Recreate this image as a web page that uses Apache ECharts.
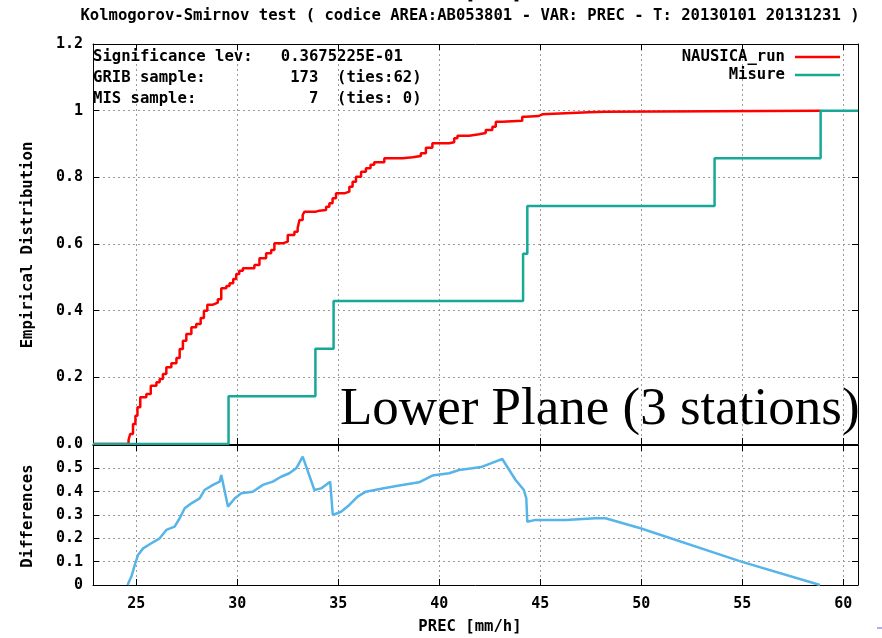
<!DOCTYPE html>
<html><head><meta charset="utf-8">
<script src="https://cdn.jsdelivr.net/npm/echarts@6/dist/echarts.min.js"></script>
<style>html,body{margin:0;padding:0;background:#fff}#c{width:882px;height:638px}</style>
</head><body><div id="c"></div>
<script>
// ---- data ----
const xTicks = [25, 30, 35, 40, 45, 50, 55, 60];
const xRange = [22.86, 60.73];
const cdfRange = [0, 1.2];
const diffRange = [0, 0.6];

// NAUSICA_run empirical CDF (step corners: x, F after the step)
const gribX = [22.86, 24.62, 24.7, 24.84, 24.96, 25.06, 25.2, 25.5, 25.72, 26.0, 26.16, 26.32, 26.49, 26.74, 26.99, 27.15, 27.31, 27.48, 27.73, 27.97, 28.19, 28.35, 28.52, 28.8, 29.04, 29.21, 29.46, 29.62, 29.8, 29.95, 30.1, 30.28, 30.85, 31.1, 31.43, 31.68, 31.84, 32.25, 32.5, 32.83, 32.99, 33.08, 33.24, 33.33, 33.9, 34.07, 34.4, 34.56, 34.72, 34.89, 35.3, 35.55, 35.71, 35.88, 36.13, 36.37, 36.6, 36.78, 37.28, 38.18, 38.68, 39.09, 39.34, 39.66, 40.49, 40.74, 40.9, 41.48, 41.97, 42.3, 42.63, 42.8, 43.12, 44.11, 44.28, 44.93, 45.1, 47.4, 48.2, 58.88];
const gribF = [0, 0.012, 0.03, 0.06, 0.085, 0.11, 0.14, 0.15, 0.175, 0.185, 0.195, 0.21, 0.23, 0.242, 0.258, 0.285, 0.31, 0.33, 0.35, 0.36, 0.378, 0.40, 0.418, 0.424, 0.434, 0.467, 0.474, 0.482, 0.495, 0.51, 0.52, 0.527, 0.537, 0.557, 0.572, 0.582, 0.602, 0.607, 0.627, 0.637, 0.647, 0.672, 0.687, 0.697, 0.70, 0.702, 0.712, 0.722, 0.737, 0.752, 0.757, 0.772, 0.787, 0.802, 0.817, 0.827, 0.838, 0.845, 0.857, 0.860, 0.864, 0.872, 0.889, 0.902, 0.905, 0.917, 0.925, 0.929, 0.933, 0.942, 0.952, 0.967, 0.970, 0.982, 0.984, 0.989, 0.995, 0.997, 1.0, 1.0];

// Misure empirical CDF
const misX = [22.86, 29.57, 33.87, 34.77, 44.15, 44.36, 53.63, 58.88, 60.73];
const misF = [0, 0.143, 0.286, 0.429, 0.571, 0.714, 0.857, 1.0, 1.0];

// Differences
const diffX = [24.57, 24.76, 24.93, 25.09, 25.34, 25.75, 26.16, 26.49, 26.9, 27.15, 27.4, 27.73, 28.14, 28.38, 28.8, 29.13, 29.21, 29.54, 29.87, 30.2, 30.77, 31.27, 31.76, 32.17, 32.58, 32.92, 33.24, 33.82, 34.15, 34.6, 34.73, 35.14, 35.55, 35.96, 36.37, 37.19, 38.02, 39.0, 39.66, 40.49, 40.98, 41.64, 42.13, 42.55, 43.12, 43.78, 44.19, 44.31, 44.36, 44.77, 46.26, 47.74, 48.23, 49.96, 54.95, 58.85];
const diffV = [0, 0.036, 0.086, 0.129, 0.157, 0.179, 0.2, 0.236, 0.25, 0.286, 0.329, 0.35, 0.371, 0.407, 0.429, 0.443, 0.471, 0.336, 0.371, 0.393, 0.4, 0.429, 0.443, 0.464, 0.479, 0.5, 0.55, 0.407, 0.414, 0.443, 0.3, 0.314, 0.343, 0.379, 0.4, 0.414, 0.426, 0.44, 0.469, 0.479, 0.493, 0.5, 0.507, 0.521, 0.54, 0.45, 0.407, 0.371, 0.271, 0.279, 0.279, 0.286, 0.286, 0.243, 0.1, 0];

const titleText = 'Kolmogorov-Smirnov test ( codice AREA:AB053801 - VAR: PREC - T: 20130101 20131231 )';
const infoLines = [
  'Significance lev:   0.3675225E-01',
  'GRIB sample:         173  (ties:62)',
  'MIS sample:            7  (ties: 0)'
];
const seriesNames = ['NAUSICA_run', 'Misure', 'Differences'];
const xName = 'PREC [mm/h]';
const yNames = ['Empirical Distribution', 'Differences'];
const annotation = 'Lower Plane (3 stations)';

// ---- chart ----
const zip = (a, b) => a.map((v, i) => [v, b[i]]);
const MONO = '"DejaVu Sans Mono", monospace';
const RED = '#ff0000', TEAL = '#17a898', BLUE = '#56b4e9';
const grid = { show: true, lineStyle: { color: '#9a9a9a', width: 1, type: [2, 3] } };
const blackLine = { show: true, onZero: false, lineStyle: { color: '#000', width: 1 } };
const tick = (vals) => ({ show: true, inside: true, length: 6, customValues: vals, lineStyle: { color: '#000' } });
const lbl = { fontFamily: MONO, fontWeight: 'bold', fontSize: 15, color: '#000' };

function xAxis(gi, pos, labels) {
  return {
    gridIndex: gi, type: 'value', position: pos, min: xRange[0], max: xRange[1],
    axisLine: blackLine, axisTick: tick(xTicks),
    axisLabel: labels ? Object.assign({ show: true, customValues: xTicks, margin: 12 }, lbl) : { show: false },
    splitLine: pos === 'bottom' ? grid : { show: false }
  };
}
function yAxis(gi, pos, range, step, fmt) {
  return {
    gridIndex: gi, type: 'value', position: pos, min: range[0], max: range[1], interval: step,
    axisLine: blackLine,
    axisTick: { show: true, inside: true, length: 6, lineStyle: { color: '#000' } },
    axisLabel: fmt ? Object.assign({ show: true, margin: 10, formatter: fmt }, lbl) : { show: false },
    splitLine: pos === 'left' ? grid : { show: false }
  };
}
const cdfFmt = v => { const r = Math.round(v * 10) / 10; if (r === 0) return '0.0'; if (r === 1) return '1'; return r.toFixed(1); };
const diffFmt = v => { const r = Math.round(v * 10) / 10; if (r >= 0.6) return ''; if (r === 0) return '0'; return r.toFixed(1); };

const txt = (text, x, y, extra, rot) => ({
  type: 'text', x, y, rotation: rot || 0, z: 100, silent: true,
  style: Object.assign({ text, fill: '#000', font: 'bold 15.6px ' + MONO, align: 'left', verticalAlign: 'middle' }, extra || {})
});

const chart = echarts.init(document.getElementById('c'), null, { renderer: 'canvas' });
chart.setOption({
  animation: false,
  backgroundColor: '#fff',
  grid: [
    { left: 93, top: 44, width: 765, height: 400, containLabel: false, outerBoundsMode: 'none' },
    { left: 93, top: 445, width: 765, height: 140, containLabel: false, outerBoundsMode: 'none' }
  ],
  xAxis: [xAxis(0, 'bottom', false), xAxis(0, 'top', false), xAxis(1, 'bottom', true), xAxis(1, 'top', false)],
  yAxis: [
    yAxis(0, 'left', cdfRange, 0.2, cdfFmt), yAxis(0, 'right', cdfRange, 0.2, null),
    yAxis(1, 'left', diffRange, 0.1, diffFmt), yAxis(1, 'right', diffRange, 0.1, null)
  ],
  series: [
    { name: seriesNames[0], type: 'line', xAxisIndex: 0, yAxisIndex: 0, step: 'end', showSymbol: false,
      data: zip(gribX, gribF), lineStyle: { color: RED, width: 2.5 }, itemStyle: { color: RED }, z: 3 },
    { name: seriesNames[1], type: 'line', xAxisIndex: 0, yAxisIndex: 0, step: 'end', showSymbol: false,
      data: zip(misX, misF), lineStyle: { color: TEAL, width: 2.5 }, itemStyle: { color: TEAL }, z: 4 },
    { name: seriesNames[2], type: 'line', xAxisIndex: 2, yAxisIndex: 2, showSymbol: false,
      data: zip(diffX, diffV), lineStyle: { color: BLUE, width: 2.5 }, itemStyle: { color: BLUE }, z: 3 }
  ],
  graphic: [
    txt(xName, 470, -5, { align: 'center' }),
    txt(titleText, 470, 16, { align: 'center' }),
    txt(infoLines[0], 93, 57),
    txt(infoLines[1], 93, 78),
    txt(infoLines[2], 93, 99),
    txt(seriesNames[0], 785, 57, { align: 'right' }),
    txt(seriesNames[1], 785, 75, { align: 'right' }),
    { type: 'line', z: 100, silent: true, shape: { x1: 795, y1: 57, x2: 840, y2: 57 }, style: { stroke: RED, lineWidth: 2.5 } },
    { type: 'line', z: 100, silent: true, shape: { x1: 795, y1: 75, x2: 840, y2: 75 }, style: { stroke: TEAL, lineWidth: 2.5 } },
    txt(yNames[0], 28, 245, { align: 'center' }, Math.PI / 2),
    txt(yNames[1], 28, 516, { align: 'center' }, Math.PI / 2),
    txt(xName, 470, 627, { align: 'center' }),
    { type: 'text', x: 340, y: 384, z: 100, silent: true,
      style: { text: annotation, fill: '#000', font: '53px "Liberation Serif", "Times New Roman", serif', align: 'left', verticalAlign: 'top' } },
    { type: 'line', z: 100, silent: true, shape: { x1: 877, y1: 628, x2: 882, y2: 628 }, style: { stroke: '#5a5af0', lineWidth: 1 } }
  ]
});
</script>
</body></html>
